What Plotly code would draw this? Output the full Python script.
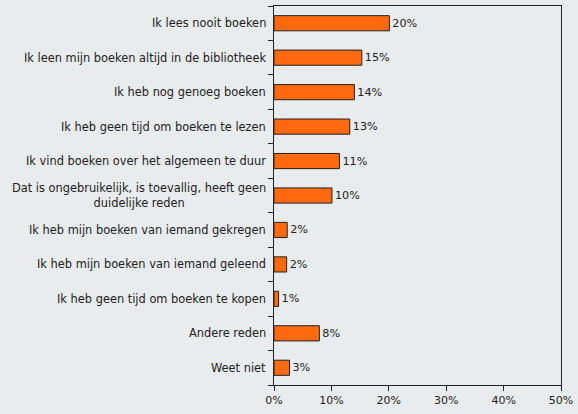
import plotly.graph_objects as go

categories = [
    "Ik lees nooit boeken",
    "Ik leen mijn boeken altijd in de bibliotheek",
    "Ik heb nog genoeg boeken",
    "Ik heb geen tijd om boeken te lezen",
    "Ik vind boeken over het algemeen te duur",
    "Dat is ongebruikelijk, is toevallig, heeft geen<br>duidelijke reden",
    "Ik heb mijn boeken van iemand gekregen",
    "Ik heb mijn boeken van iemand geleend",
    "Ik heb geen tijd om boeken te kopen",
    "Andere reden",
    "Weet niet",
]
values = [20.1, 15.3, 14.0, 13.2, 11.4, 10.1, 2.3, 2.2, 0.8, 7.9, 2.7]
value_labels = ["20%", "15%", "14%", "13%", "11%", "10%", "2%", "2%", "1%", "8%", "3%"]
x_ticks = [0, 10, 20, 30, 40, 50]

FONT = "DejaVu Sans"
BG = "#e9ecee"
pos = list(range(len(categories)))

fig = go.Figure()
fig.add_trace(go.Bar(
    x=values, y=pos, orientation="h", width=0.44,
    marker=dict(color="#ff6a0e", line=dict(color="#222222", width=1)),
    text=value_labels, textposition="outside", cliponaxis=False,
    textfont=dict(family=FONT, size=11.2, color="#222222"),
    hoverinfo="skip",
))

for i, c in enumerate(categories):
    fig.add_annotation(
        x=0, xref="paper", y=i, yref="y", text=c, showarrow=False,
        xanchor="right", xshift=-6, align="center",
        font=dict(family=FONT, size=11.4, color="#222222"),
    )

fig.update_layout(
    width=578, height=414,
    margin=dict(l=274, r=14, t=5, b=29),
    paper_bgcolor=BG, plot_bgcolor=BG,
    showlegend=False,
    xaxis=dict(
        range=[0, 50], tickvals=x_ticks, ticktext=[f"{v}%" for v in x_ticks],
        showgrid=False, zeroline=False, showline=True, linecolor="#222222",
        mirror=True, ticks="outside", ticklen=5, tickcolor="#222222",
        tickfont=dict(family=FONT, size=11, color="#222222"),
    ),
    yaxis=dict(
        range=[10.5, -0.5], tickvals=[i - 0.5 for i in range(len(categories) + 1)],
        ticktext=[""] * (len(categories) + 1),
        showgrid=False, zeroline=False, showline=True, linecolor="#222222",
        mirror=True, ticks="outside", ticklen=5, tickcolor="#222222",
    ),
)

fig.write_html("out.html", config={"displayModeBar": False},
               post_script="document.body.style.margin='0';")
